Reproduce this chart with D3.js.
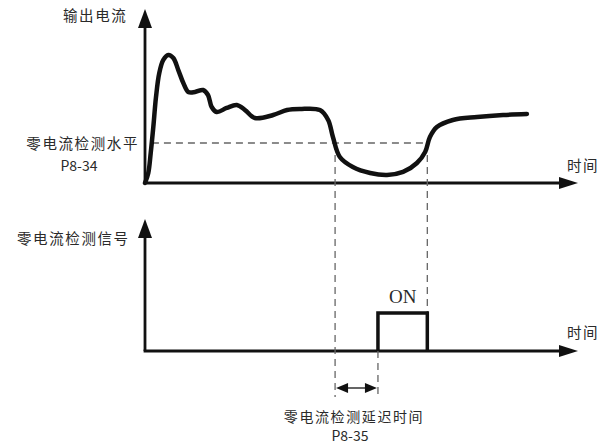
<!DOCTYPE html>
<html><head><meta charset="utf-8">
<script src="https://cdn.jsdelivr.net/npm/d3@7/dist/d3.min.js"></script>
<style>
body{margin:0;background:#fff;}
text{font-family:"Noto Sans CJK SC","Noto Sans",sans-serif;fill:#2a2a2a;}
</style></head>
<body><svg id="c" width="606" height="448"></svg>
<script>
// time (0..100) and output current (0..100)
const curveT = [0, 0.76, 1.32, 1.92, 2.54, 3.30, 4.23, 5.38, 6.54, 7.69, 8.85, 10.0, 11.55, 13.4, 14.55, 15.4, 16.56, 18.87, 21.2, 23.1, 25.4, 29.6, 32.8, 35.8, 40.4, 42.3, 43.4, 45.0, 48.0, 52.0, 55.9, 59.6, 62.8, 64.7, 65.8, 67.4, 71.1, 76.7, 82.7, 88.2];
const curveI = [0, 6.25, 18.75, 35, 53.75, 68.75, 76.9, 80, 78.1, 70.6, 62.5, 56.9, 56.9, 58.1, 55, 47.5, 44.4, 46.9, 48.75, 45.6, 40.6, 42.5, 45.6, 46.25, 45.6, 39.4, 28.75, 16.25, 10, 6.25, 5, 6.9, 12.5, 19.4, 28.75, 35, 39.4, 41.25, 42.5, 43.1];
const zeroLevel = 25;          // P8-34
const dropTime = 43.9;         // current falls below level
const onStart = 53.8;          // after delay P8-35
const onEnd = 65.2;            // current rises above level
const signalT = [onStart, onStart, onEnd, onEnd];
const signalV = [0, 1, 1, 0];
const labels = {
  yTop: "输出电流", level: "零电流检测水平", levelCode: "P8-34",
  time: "时间", ySig: "零电流检测信号", on: "ON",
  delay: "零电流检测延迟时间", delayCode: "P8-35"
};

const svg = d3.select("#c");
const x = d3.scaleLinear().domain([0, 100]).range([145, 578]);
const yTop = d3.scaleLinear().domain([0, 100]).range([183, 23]);
const ySig = d3.scaleLinear().domain([0, 1]).range([351, 313]);

function axes(y0, yTip, xEnd) {
  const ax = x(0);
  svg.append("line").attr("x1", ax).attr("x2", ax).attr("y1", y0).attr("y2", yTip + 16)
    .attr("stroke", "#111").attr("stroke-width", 2.8);
  svg.append("path").attr("d", `M${ax},${yTip} L${ax-7},${yTip+19} L${ax+7},${yTip+19} Z`).attr("fill", "#111");
  svg.append("line").attr("x1", ax - 1.4).attr("x2", xEnd - 16).attr("y1", y0).attr("y2", y0)
    .attr("stroke", "#111").attr("stroke-width", 2.8);
  svg.append("path").attr("d", `M${xEnd},${y0} L${xEnd-19},${y0-6} L${xEnd-19},${y0+6} Z`).attr("fill", "#111");
}
axes(yTop(0), 9, x(100));
axes(ySig(0), 219, x(100));

// dashed guides
const dash = {stroke: "#666", w: 1.3, d: "7,5"};
function dl(x1, y1, x2, y2) {
  svg.append("line").attr("x1", x1).attr("y1", y1).attr("x2", x2).attr("y2", y2)
    .attr("stroke", dash.stroke).attr("stroke-width", dash.w).attr("stroke-dasharray", dash.d);
}
dl(x(1.6), yTop(zeroLevel), x(onEnd), yTop(zeroLevel));
dl(x(dropTime), yTop(zeroLevel), x(dropTime), 397);
dl(x(onEnd), yTop(zeroLevel), x(onEnd), ySig(1));
dl(x(onStart), ySig(0), x(onStart), 397);

// current curve
const line = d3.line().x((d, i) => x(curveT[i])).y((d, i) => yTop(curveI[i])).curve(d3.curveCatmullRom.alpha(0.5));
svg.append("path").attr("d", line(curveT)).attr("fill", "none").attr("stroke", "#111")
  .attr("stroke-width", 4.5).attr("stroke-linecap", "round").attr("stroke-linejoin", "round");

// signal pulse
const sline = d3.line().x((d, i) => x(signalT[i])).y((d, i) => ySig(signalV[i]));
svg.append("path").attr("d", sline(signalT)).attr("fill", "none").attr("stroke", "#111")
  .attr("stroke-width", 3.5).attr("stroke-linejoin", "miter");

// delay double arrow
const ay = 388, x1 = x(dropTime), x2 = x(onStart);
svg.append("line").attr("x1", x1 + 8).attr("x2", x2 - 8).attr("y1", ay).attr("y2", ay).attr("stroke", "#111").attr("stroke-width", 1.3);
svg.append("path").attr("d", `M${x1+1},${ay} L${x1+13},${ay-5} L${x1+13},${ay+5} Z`).attr("fill", "#111");
svg.append("path").attr("d", `M${x2-1},${ay} L${x2-13},${ay-5} L${x2-13},${ay+5} Z`).attr("fill", "#111");

// texts
function t(str, px, py, anchor, extra) {
  const e = svg.append("text").attr("x", px).attr("y", py).attr("text-anchor", anchor || "start")
    .attr("font-size", 14.5).attr("letter-spacing", 1.6).text(str);
  if (extra) extra(e);
  return e;
}
const latin = e => e.attr("font-family", "'Liberation Sans',Arial,sans-serif").attr("letter-spacing", 0).attr("font-size", 14);
t(labels.yTop, 63, 21);
t(labels.level, 139, 149, "end");
t(labels.levelCode, 79, 171, "middle", latin);
t(labels.time, 567, 171);
t(labels.ySig, 17, 244);
t(labels.time, 567, 338);
t(labels.on, x((onStart + onEnd) / 2), 303, "middle", e => e.style("font-family", "'Liberation Serif','Times New Roman',serif").attr("letter-spacing", 0).attr("font-size", 19));
t(labels.delay, 354, 422, "middle", e => e.attr("font-size", 14));
t(labels.delayCode, 350, 441, "middle", latin);
</script></body></html>
